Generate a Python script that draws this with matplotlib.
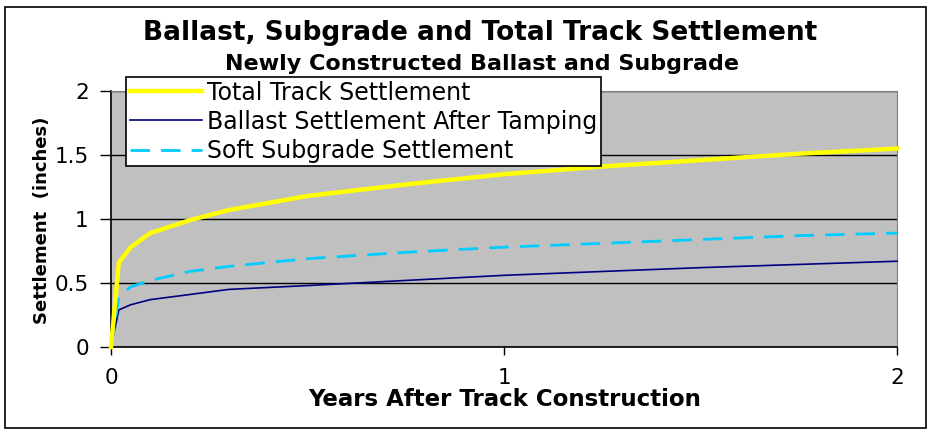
import numpy as np
import matplotlib
matplotlib.use("Agg")
import matplotlib.pyplot as plt
from matplotlib.patches import Rectangle

# =========================
# Data
# =========================
years = [0, 0.02, 0.05, 0.1, 0.2, 0.3, 0.5, 0.75, 1.0, 1.25, 1.5, 1.75, 2.0]
total = [0, 0.66, 0.78, 0.89, 0.99, 1.07, 1.18, 1.27, 1.35, 1.41, 1.46, 1.51, 1.55]
ballast = [0, 0.29, 0.33, 0.37, 0.41, 0.45, 0.48, 0.52, 0.56, 0.59, 0.62, 0.645, 0.67]
subgrade = [0, 0.39, 0.47, 0.52, 0.59, 0.63, 0.69, 0.74, 0.78, 0.81, 0.84, 0.87, 0.89]

labels = ["Total Track Settlement", "Ballast Settlement After Tamping",
          "Soft Subgrade Settlement"]
yticks = [0, 0.5, 1, 1.5, 2]
ytick_labels = ["0", "0.5", "1", "1.5", "2"]
xticks = [0, 1, 2]

plt.rcParams["font.family"] = ["DejaVu Sans"]

W, H = 933, 433
fig = plt.figure(figsize=(W / 100, H / 100), dpi=100)
ax = fig.add_axes([111 / W, 1 - 347 / H, (897 - 111) / W, (347 - 91) / H])
ax.set_facecolor("#C0C0C0")

# outer chart border
fig.patches.append(Rectangle((5 / W, 5 / H), 921 / W, 421 / H, transform=fig.transFigure,
                             fill=False, edgecolor="black", linewidth=1.2))

l1, = ax.plot(years, total, color="#FFFF00", lw=3.2, clip_on=False, zorder=4)
l2, = ax.plot(years, ballast, color="#000080", lw=1.2, clip_on=False, zorder=3)
l3, = ax.plot(years, subgrade, color="#00CCFF", lw=2, dashes=(7, 4), clip_on=False, zorder=3)

ax.set_xlim(0, 2)
ax.set_ylim(0, 2)
ax.set_yticks(yticks)
ax.set_yticklabels(ytick_labels)
ax.set_xticks(xticks)
ax.tick_params(axis="both", direction="out", length=8, width=1, labelsize=15.5, color="black")
ax.tick_params(axis="y", pad=8)
ax.tick_params(axis="x", length=6, pad=9)

ax.grid(axis="y", color="black", lw=1)
ax.set_axisbelow(True)
for s in ["top", "right"]:
    ax.spines[s].set_color("#808080")
for s in ["left", "bottom"]:
    ax.spines[s].set_color("black")
    ax.spines[s].set_linewidth(1.2)

ax.set_xlabel("Years After Track Construction", fontsize=16.5, fontweight="bold")
ax.xaxis.set_label_coords((505 - 111) / 786, (347 - 399) / 256)
ax.xaxis.label.set_va("center")
ax.set_ylabel("Settlement  (inches)", fontsize=13, fontweight="bold")
ax.yaxis.set_label_coords((42 - 111) / 786, (347 - 220) / 256)
ax.yaxis.label.set_va("center")

fig.text(480 / W, 1 - 33 / H, "Ballast, Subgrade and Total Track Settlement",
         ha="center", va="center", fontsize=19, fontweight="bold")
fig.text(482 / W, 1 - 64 / H, "Newly Constructed Ballast and Subgrade",
         ha="center", va="center", fontsize=16, fontweight="bold")

leg = ax.legend([l1, l2, l3], labels, loc="upper left",
                bbox_to_anchor=(126 / W, 1 - 77 / H), bbox_transform=fig.transFigure,
                borderaxespad=0, fontsize=17, fancybox=False, framealpha=1,
                edgecolor="black", handlelength=3.05, handletextpad=0.25,
                labelspacing=0.22, borderpad=0.15)
leg.get_frame().set_linewidth(1.2)
leg.set_zorder(10)

fig.savefig("out.png", dpi=100)
